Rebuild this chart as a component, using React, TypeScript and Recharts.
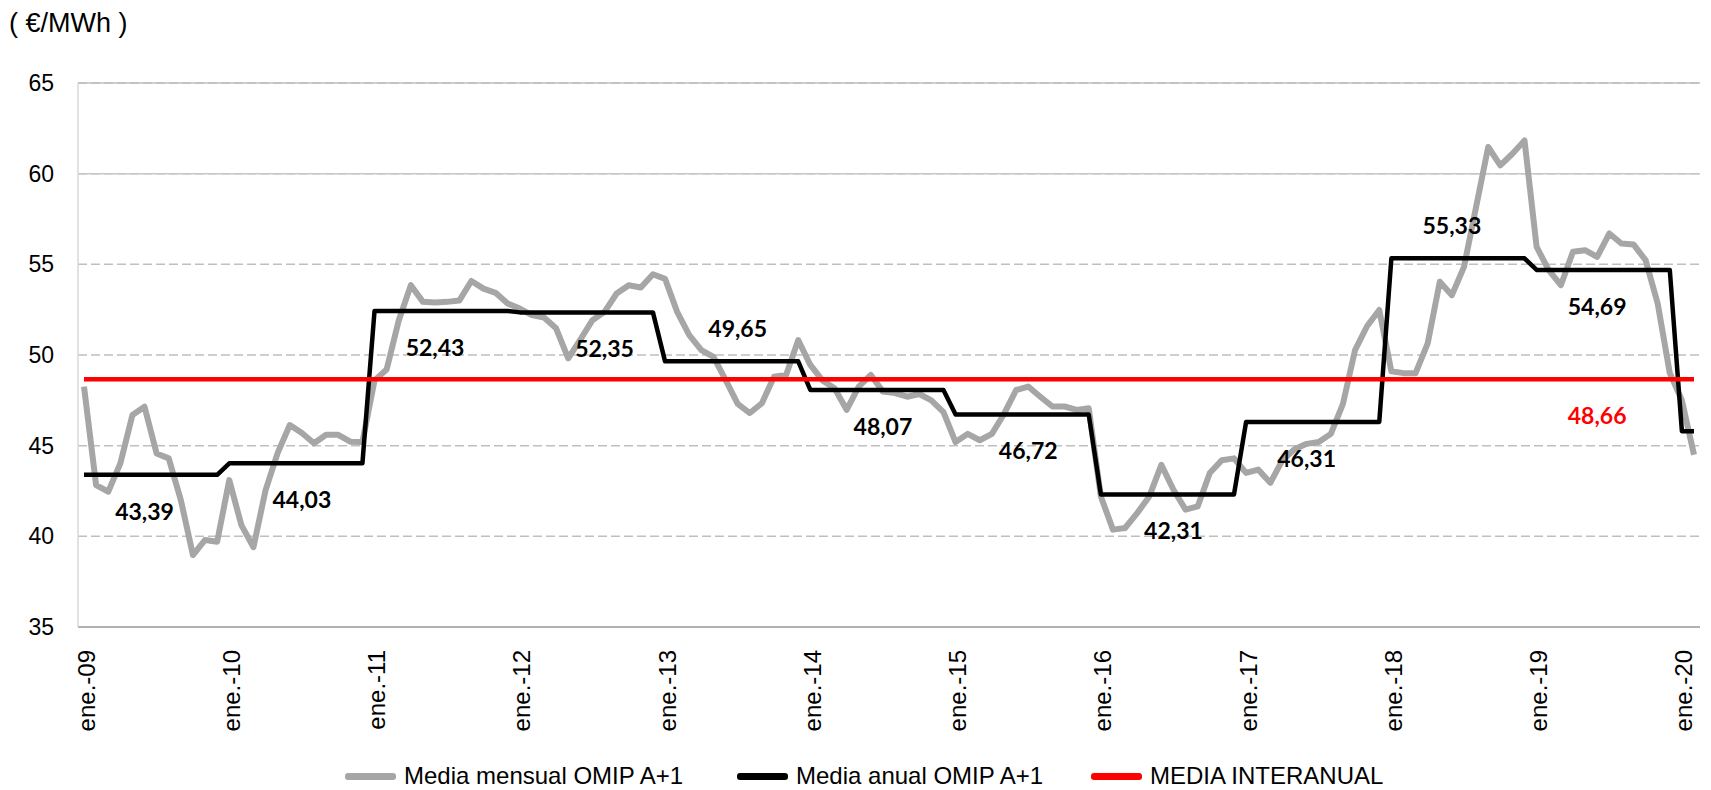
import { LineChart, Line, XAxis, YAxis, CartesianGrid, ReferenceLine, Legend, LabelList } from 'recharts';

// Categories: monthly, ene.-09 .. feb.-20
const years = ['09', '10', '11', '12', '13', '14', '15', '16', '17', '18', '19', '20'];
const monthNames = ['ene.', 'feb.', 'mar.', 'abr.', 'may.', 'jun.', 'jul.', 'ago.', 'sep.', 'oct.', 'nov.', 'dic.'];
const lastYearMonths = 2;

// Media mensual OMIP A+1 (€/MWh)
const mediaMensual = [
  48.25, 42.83, 42.46, 44.02, 46.69, 47.15, 44.57, 44.3, 42.0, 38.97, 39.8, 39.7,
  43.1, 40.62, 39.4, 42.55, 44.6, 46.14, 45.7, 45.13, 45.6, 45.6, 45.22, 45.2,
  48.6, 49.2, 51.9, 53.85, 52.93, 52.9, 52.93, 53.0, 54.08, 53.66, 53.43, 52.84,
  52.56, 52.2, 52.07, 51.47, 49.82, 50.85, 51.92, 52.38, 53.39, 53.85, 53.72, 54.45,
  54.2, 52.38, 51.1, 50.27, 49.9, 48.63, 47.3, 46.8, 47.34, 48.8, 48.9, 50.82,
  49.45, 48.6, 48.17, 46.98, 48.26, 48.9, 47.98, 47.9, 47.7, 47.85, 47.5, 46.85,
  45.2, 45.65, 45.3, 45.65, 46.75, 48.07, 48.26, 47.7, 47.16, 47.16, 46.97, 47.06,
  42.2, 40.37, 40.46, 41.28, 42.2, 43.94, 42.57, 41.47, 41.65, 43.49, 44.2, 44.3,
  43.5, 43.68, 42.95, 44.2, 44.8, 45.1, 45.2, 45.65, 47.3, 50.27, 51.6, 52.48,
  49.1, 49.0, 49.0, 50.64, 54.04, 53.3, 54.86, 58.17, 61.47, 60.46, 61.1, 61.83,
  55.96, 54.68, 53.85, 55.69, 55.78, 55.41, 56.7, 56.15, 56.1, 55.23, 52.84, 49.0,
  47.5, 44.5,
];

// Media anual OMIP A+1, one value per year
const mediaAnual = [43.39, 44.03, 52.43, 52.35, 49.65, 48.07, 46.72, 42.31, 46.31, 55.33, 54.69, 45.8];

const mediaInteranual = 48.66;

const yTicks = [35, 40, 45, 50, 55, 60, 65];

const months: string[] = [];
years.forEach((yy, yi) => {
  const n = yi === years.length - 1 ? lastYearMonths : 12;
  for (let m = 0; m < n; m++) months.push(`${monthNames[m]}-${yy}`);
});

const data = months.map((mes, i) => ({
  mes,
  mensual: mediaMensual[i],
  anual: mediaAnual[Math.floor(i / 12)],
  interanual: mediaInteranual,
}));

// where the value labels sit (point index -> above / below the line)
const anualLabelSpots: Record<number, 'above' | 'below'> = {
  5: 'below', 18: 'below', 29: 'below', 43: 'below', 54: 'above', 66: 'below',
  78: 'below', 90: 'below', 101: 'below', 113: 'above', 125: 'below',
};
const interanualLabelSpots: Record<number, 'above' | 'below'> = { 125: 'below' };

const fmt = (v: number) => v.toFixed(2).replace('.', ',');
const FONT = '"Liberation Sans", Arial, sans-serif';

const makeLabel = (spots: Record<number, 'above' | 'below'>, color: string) => (props: any) => {
  const { x, y, value, index } = props;
  const spot = spots[index];
  if (!spot) return null;
  return (
    <text
      x={x}
      y={y + (spot === 'below' ? 36 : -33)}
      textAnchor="middle"
      dominantBaseline="central"
      fontFamily="Lato, sans-serif"
      fontWeight={700}
      fontSize={23}
      fill={color}
    >
      {fmt(Number(value))}
    </text>
  );
};

const XTick = ({ x, y, payload }: any) => (
  <text
    x={x + 2}
    y={y}
    transform={`rotate(-90, ${x + 2}, ${y})`}
    textAnchor="end"
    dominantBaseline="central"
    fontFamily={FONT}
    fontSize={24}
    fill="#000"
  >
    {payload.value}
  </text>
);

// y tick labels, right edge 24px left of the plot
const YTick = ({ y, payload }: any) => (
  <text x={54} y={y} textAnchor="end" dominantBaseline="central" fontFamily={FONT} fontSize={23} fill="#000">
    {payload.value}
  </text>
);

const legendItems = [
  { name: 'Media mensual OMIP A+1', color: '#A6A6A6', left: 345 },
  { name: 'Media anual OMIP A+1', color: '#000000', left: 737 },
  { name: 'MEDIA INTERANUAL', color: '#FF0000', left: 1091 },
];

const ChartLegend = () => (
  <div style={{ position: 'relative', width: 1711, height: 28 }}>
    {legendItems.map((it) => (
      <div
        key={it.name}
        style={{ position: 'absolute', left: it.left, top: 0, height: 28, display: 'flex', alignItems: 'center' }}
      >
        <div style={{ width: 51, height: 7, background: it.color, borderRadius: 3 }} />
        <span style={{ marginLeft: 8, fontFamily: FONT, fontSize: 24, color: '#000', whiteSpace: 'nowrap' }}>
          {it.name}
        </span>
      </div>
    ))}
  </div>
);

export default function App() {
  return (
    <div style={{ position: 'absolute', left: 0, top: 0, width: 1711, height: 790, background: '#fff' }}>
      <div style={{ position: 'absolute', left: 9, top: 8, fontFamily: FONT, fontSize: 27, color: '#000', whiteSpace: 'pre' }}>
        ( €/MWh )
      </div>
      <LineChart width={1711} height={790} data={data} margin={{ top: 83, right: 11, left: 0, bottom: 0 }}>
        <CartesianGrid vertical={false} stroke="#BFBFBF" strokeWidth={1.5} strokeDasharray="9 4" />
        <ReferenceLine y={60} stroke="#C8C8C8" strokeWidth={1.5} />
        <ReferenceLine y={65} stroke="#BFBFBF" strokeWidth={1.5} />
        <XAxis
          dataKey="mes"
          interval={11}
          padding={{ left: 6, right: 6 }}
          height={135}
          tick={<XTick />}
          tickLine={false}
          tickMargin={17}
          axisLine={{ stroke: '#B0B0B0', strokeWidth: 2 }}
        />
        <YAxis
          domain={[35, 65]}
          ticks={yTicks}
          width={78}
          tickLine={false}
          axisLine={{ stroke: '#D9D9D9', strokeWidth: 1.5 }}
          tick={<YTick />}
        />
        <YAxis
          yAxisId="borde"
          orientation="right"
          width={0}
          domain={[35, 65]}
          tick={false}
          tickLine={false}
          axisLine={{ stroke: '#A6A6A6', strokeWidth: 2 }}
        />
        <Legend verticalAlign="bottom" height={28} content={() => <ChartLegend />} wrapperStyle={{ left: 0, width: 1711 }} />
        <Line type="linear" dataKey="mensual" name="Media mensual OMIP A+1" stroke="#A6A6A6" strokeWidth={6} dot={false} strokeLinejoin="round" isAnimationActive={false} />
        <Line type="linear" dataKey="anual" name="Media anual OMIP A+1" stroke="#000000" strokeWidth={4.5} dot={false} strokeLinejoin="round" isAnimationActive={false}>
          <LabelList dataKey="anual" content={makeLabel(anualLabelSpots, '#000')} />
        </Line>
        <Line type="linear" dataKey="interanual" name="MEDIA INTERANUAL" stroke="#FF0000" strokeWidth={4.5} dot={false} isAnimationActive={false}>
          <LabelList dataKey="interanual" content={makeLabel(interanualLabelSpots, '#FF0000')} />
        </Line>
      </LineChart>
    </div>
  );
}
